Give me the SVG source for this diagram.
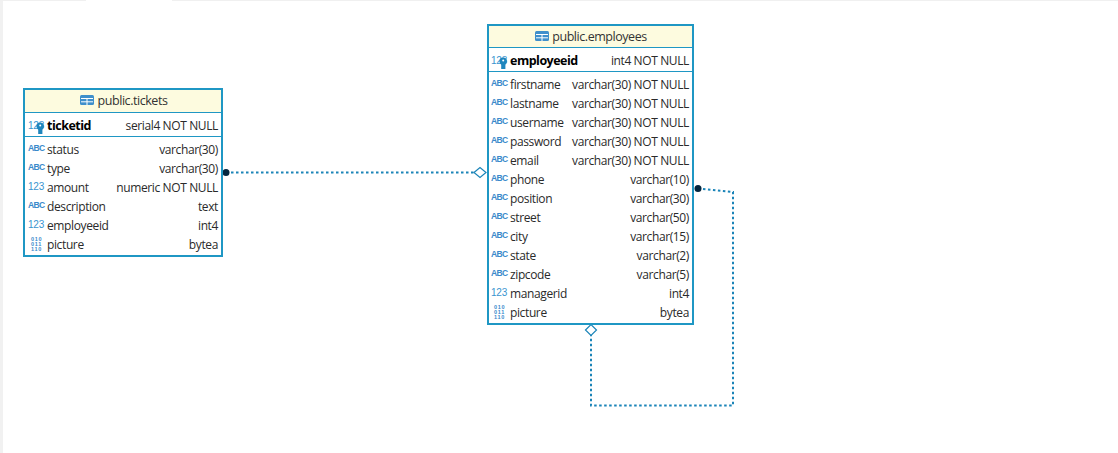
<svg xmlns="http://www.w3.org/2000/svg" width="1118" height="453" viewBox="0 0 1118 453">
<style>
text{font-family:"Open Sans","Noto Sans","Liberation Sans",sans-serif;font-size:12px;letter-spacing:-.38px;fill:#2a2a2a}
.title{font-size:12.5px;letter-spacing:-.45px;text-anchor:middle;fill:#333}
.key{font-weight:700;fill:#000;font-size:12.5px;letter-spacing:-.5px}
.type{text-anchor:end}
.abc{font-size:8.500px;font-weight:700;fill:#3a8acb;font-family:"Liberation Sans",sans-serif;letter-spacing:-.6px}
.num{font-size:10px;fill:#3a94cf;font-family:"Liberation Sans",sans-serif;letter-spacing:-.2px}
.bin{font-size:5.500px;font-weight:700;fill:#3a8acb;font-family:"Liberation Sans",sans-serif;letter-spacing:.7px}
.box{fill:#fff;stroke:#1f97c4;stroke-width:2}
.head{fill:#fdfbdf}
.sep{stroke:#1f97c4;stroke-width:1;fill:none}
.conn{fill:none;stroke:#1a84b8;stroke-width:2;stroke-dasharray:2.500 2.500}
.dia{fill:#fff;stroke:#1a84b8;stroke-width:1.2}
.dot{fill:#04263f}
.tblicon{fill:#3f8fcb}
.grid{stroke:#fff;stroke-width:1}
.keyic{fill:#1f86bd}
</style>
<defs>
<g id="tbl"><rect class="tblicon" x="0" y="0" width="14" height="10" rx="1.5"/><path class="grid" d="M1 3.500H13M1 6.800H13M7 3V10" fill="none"/></g>
<g id="keyi"><circle class="keyic" cx="4.200" cy="3.200" r="3.700"/><rect class="keyic" x="2.200" y="4" width="4.200" height="7"/><circle cx="4.200" cy="2.400" r="1" fill="#fff"/></g>
</defs>
<rect x="0" y="0" width="1118" height="453" fill="#fff"/>
<rect x="0" y="0" width="3" height="453" fill="#f1f1f1"/>
<rect x="0" y="0" width="86" height="1" fill="#f0f0f0"/>
<rect x="172" y="0" width="946" height="1" fill="#f0f0f0"/>

<g id="connectors">
<path class="conn" d="M226 172.500H476"/>
<path class="conn" d="M698 188.500L733 192V405.500H591V335"/>
<path class="dia" d="M474 172.500L480 167.500L486 172.500L480 177.500Z"/>
<path class="dia" d="M585.500 330L591 324.500L596.500 330L591 335.500Z"/>
<circle class="dot" cx="226" cy="172.500" r="3.500"/>
<circle class="dot" cx="698" cy="188.500" r="3.500"/>
</g>

<g id="node-tickets">
<rect class="box" x="24" y="89" width="198" height="167"/>
<rect class="head" x="25" y="90" width="196" height="22"/>
<line class="sep" x1="24" y1="112.500" x2="222" y2="112.500"/>
<line class="sep" x1="24" y1="136.500" x2="222" y2="136.500"/>
<use href="#tbl" x="80" y="95"/>
<text class="title" x="132.500" y="105">public.tickets</text>
<text class="num" x="28" y="129">123</text><use href="#keyi" x="36" y="123"/>
<text class="key" x="47" y="130">ticketid</text><text class="type" x="218" y="130">serial4 NOT NULL</text>
<text class="abc" x="28" y="151">ABC</text><text x="47" y="154">status</text><text class="type" x="218" y="154">varchar(30)</text>
<text class="abc" x="28" y="170">ABC</text><text x="47" y="173">type</text><text class="type" x="218" y="173">varchar(30)</text>
<text class="num" x="28" y="190">123</text><text x="47" y="192">amount</text><text class="type" x="218" y="192">numeric NOT NULL</text>
<text class="abc" x="28" y="208">ABC</text><text x="47" y="211">description</text><text class="type" x="218" y="211">text</text>
<text class="num" x="28" y="228">123</text><text x="47" y="230">employeeid</text><text class="type" x="218" y="230">int4</text>
<text class="bin" x="31" y="241">010</text><text class="bin" x="31" y="246">011</text><text class="bin" x="31" y="251">110</text><text x="47" y="249">picture</text><text class="type" x="218" y="249">bytea</text>
</g>

<g id="node-employees">
<rect class="box" x="488" y="25" width="205" height="299"/>
<rect class="head" x="489" y="26" width="203" height="21"/>
<line class="sep" x1="488" y1="47.500" x2="693" y2="47.500"/>
<line class="sep" x1="488" y1="71.500" x2="693" y2="71.500"/>
<use href="#tbl" x="535" y="31"/>
<text class="title" x="599.500" y="41">public.employees</text>
<text class="num" x="491" y="64">123</text><use href="#keyi" x="499" y="58"/>
<text class="key" x="510" y="65">employeeid</text><text class="type" x="689" y="65">int4 NOT NULL</text>
<text class="abc" x="491" y="86">ABC</text><text x="510" y="89">firstname</text><text class="type" x="689" y="89">varchar(30) NOT NULL</text>
<text class="abc" x="491" y="105">ABC</text><text x="510" y="108">lastname</text><text class="type" x="689" y="108">varchar(30) NOT NULL</text>
<text class="abc" x="491" y="124">ABC</text><text x="510" y="127">username</text><text class="type" x="689" y="127">varchar(30) NOT NULL</text>
<text class="abc" x="491" y="143">ABC</text><text x="510" y="146">password</text><text class="type" x="689" y="146">varchar(30) NOT NULL</text>
<text class="abc" x="491" y="162">ABC</text><text x="510" y="165">email</text><text class="type" x="689" y="165">varchar(30) NOT NULL</text>
<text class="abc" x="491" y="181">ABC</text><text x="510" y="184">phone</text><text class="type" x="689" y="184">varchar(10)</text>
<text class="abc" x="491" y="200">ABC</text><text x="510" y="203">position</text><text class="type" x="689" y="203">varchar(30)</text>
<text class="abc" x="491" y="219">ABC</text><text x="510" y="222">street</text><text class="type" x="689" y="222">varchar(50)</text>
<text class="abc" x="491" y="238">ABC</text><text x="510" y="241">city</text><text class="type" x="689" y="241">varchar(15)</text>
<text class="abc" x="491" y="257">ABC</text><text x="510" y="260">state</text><text class="type" x="689" y="260">varchar(2)</text>
<text class="abc" x="491" y="276">ABC</text><text x="510" y="279">zipcode</text><text class="type" x="689" y="279">varchar(5)</text>
<text class="num" x="491" y="296">123</text><text x="510" y="298">managerid</text><text class="type" x="689" y="298">int4</text>
<text class="bin" x="494" y="309">010</text><text class="bin" x="494" y="314">011</text><text class="bin" x="494" y="319">110</text><text x="510" y="317">picture</text><text class="type" x="689" y="317">bytea</text>
</g>
</svg>
